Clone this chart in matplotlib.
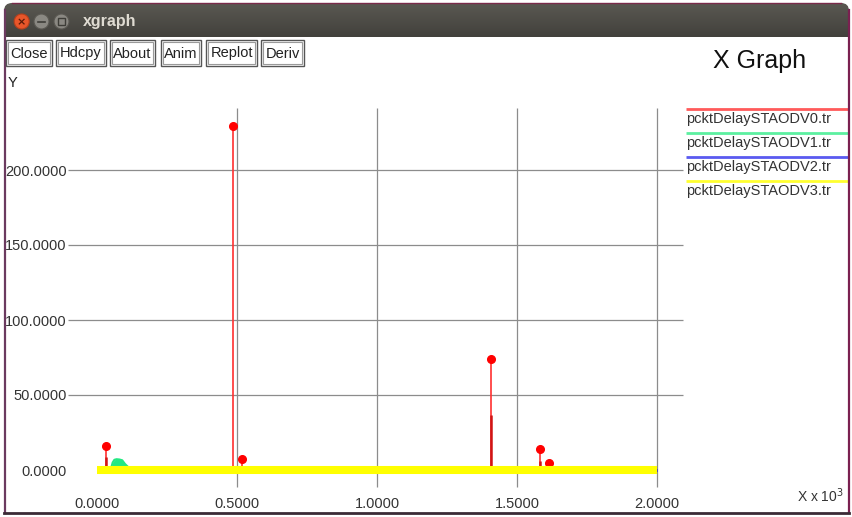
import numpy as np
import matplotlib.pyplot as plt
from matplotlib.patches import Rectangle, Circle, FancyBboxPatch
from matplotlib.colors import LinearSegmentedColormap

plt.rcParams['font.family'] = ['Liberation Sans', 'DejaVu Sans']

# 数据 (x 单位: 10^3)
# pcktDelaySTAODV0.tr 红色尖峰
red_x = [0.032, 0.487, 0.519, 1.406, 1.582, 1.615]
red_y = [16.2, 229.3, 7.3, 73.8, 14.0, 4.4]
red_inner = [9.0, 0.0, 3.0, 36.5, 6.0, 0.0]

# pcktDelaySTAODV1.tr 绿色小包
green_x = [0.050, 0.056, 0.062, 0.070, 0.080, 0.090, 0.100, 0.110, 0.118]
green_y = [1.0, 5.0, 6.8, 7.2, 7.0, 6.5, 4.0, 2.2, 1.2]

# pcktDelaySTAODV2.tr / pcktDelaySTAODV3.tr 贴近 0
blue_x = [0.0, 0.5, 1.0, 1.5, 2.0]
blue_y = [0.0, 0.0, 0.0, 0.0, 0.0]
yellow_x = [0.0, 0.5, 1.0, 1.5, 2.0]
yellow_y = [0.0, 0.0, 0.0, 0.0, 0.0]

x_ticks = [0.0, 0.5, 1.0, 1.5, 2.0]
y_ticks = [0, 50, 100, 150, 200]

legend_names = ['pcktDelaySTAODV0.tr', 'pcktDelaySTAODV1.tr',
                'pcktDelaySTAODV2.tr', 'pcktDelaySTAODV3.tr']
legend_colors = ['#ff5a5a', '#5cf0a0', '#5a5af0', '#ffff30']

buttons = ['Close', 'Hdcpy', 'About', 'Anim', 'Replot', 'Deriv']
button_x = [6, 56, 110, 161, 206, 261]
button_w = [46, 50, 45, 40, 51, 43]

W, H = 852, 517
fig = plt.figure(figsize=(W / 100, H / 100), dpi=100)
fig.patch.set_facecolor('white')

# 窗口外框 (像素坐标)
bg = fig.add_axes([0, 0, 1, 1])
bg.set_xlim(0, W)
bg.set_ylim(H, 0)
bg.axis('off')
bg.set_zorder(0)

# 标题栏 (圆角, 渐变)
bar = FancyBboxPatch((4, 3), 845, 48, boxstyle='round,pad=0,rounding_size=8',
                     facecolor='none', edgecolor='none')
bg.add_patch(bar)
grad = np.linspace(0, 1, 50).reshape(-1, 1)
im = bg.imshow(grad, extent=(4, 849, 37, 3),
               cmap=LinearSegmentedColormap.from_list('tb', ['#5a5852', '#42413c']),
               aspect='auto', zorder=1)
im.set_clip_path(bar)
bg.plot([12, 841], [3.2, 3.2], color='#7a2a4a', lw=1.0, zorder=3)

# 窗口边框
bg.plot([4.5, 4.5], [10, 513], color='#6b3a5f', lw=1.6, zorder=3)
bg.plot([848.5, 848.5], [10, 513], color='#7a2050', lw=1.6, zorder=3)
bg.plot([4, 849], [513, 513], color='#3b2a35', lw=2.0, zorder=3)

# 关闭/最小化/最大化
bg.add_patch(Circle((21.7, 21.5), 7.5, facecolor='#e8562a', edgecolor='#b8401c', lw=0.8, zorder=4))
bg.text(21.7, 21.8, '×', color='#5a1a08', fontsize=8, ha='center', va='center', zorder=5,
        family='DejaVu Sans', fontweight='bold')
bg.add_patch(Circle((41.5, 21.5), 7.5, facecolor='#8a8882', edgecolor='#5a5852', lw=0.8, zorder=4))
bg.plot([38, 45], [21.8, 21.8], color='#3e3d38', lw=1.2, zorder=5)
bg.add_patch(Circle((61.5, 21.5), 7.5, facecolor='#8a8882', edgecolor='#5a5852', lw=0.8, zorder=4))
bg.add_patch(Rectangle((58, 18), 7, 7, facecolor='none', edgecolor='#3e3d38', lw=1.0, zorder=5))
bg.text(83, 21.5, 'xgraph', color='#dfdbd2', fontsize=11.5, fontweight='bold',
        ha='left', va='center', zorder=5)

# 工具按钮
for name, bx, bw in zip(buttons, button_x, button_w):
    bg.add_patch(Rectangle((bx, 39.5), bw, 26, facecolor='white', edgecolor='#555555', lw=1.0, zorder=4))
    bg.add_patch(Rectangle((bx + 2, 41.5), bw - 4, 22, facecolor='white', edgecolor='#9a9a9a', lw=0.8, zorder=4))
    bg.text(bx + bw / 2, 53.5, name, fontsize=10.5, color='#222222', ha='center', va='center', zorder=5)

bg.text(8, 83, 'Y', fontsize=10.5, color='#222222', ha='left', va='center')
bg.text(760, 61, 'X Graph', fontsize=18, color='#111111', ha='center', va='center')
bg.text(797, 496, r'X x 10$^{3}$', fontsize=10, color='#333333', ha='left', va='center')

# 图例
for i, (name, c) in enumerate(zip(legend_names, legend_colors)):
    ly = 109 + 24 * i
    bg.plot([686, 848], [ly, ly], color=c, lw=2.0, solid_capstyle='butt')
    bg.text(686, ly + 10, name, fontsize=10.5, color='#333333', ha='left', va='center')

# 绘图区: 像素 x 68..690, y 100..490
ax = fig.add_axes([68 / W, (H - 490) / H, 622 / W, 390 / H])
ax.set_zorder(1)
ax.patch.set_alpha(0)
ax.set_xlim((68 - 97) / 280, (690 - 97) / 280)
ax.set_ylim((470 - 490) / 1.5, (470 - 100) / 1.5)
for s in ax.spines.values():
    s.set_visible(False)

grid_c = '#8c8c8c'
ax.hlines(y_ticks[1:], (68 - 97) / 280, (683 - 97) / 280, color=grid_c, lw=0.9, zorder=1)
ax.vlines(x_ticks[1:], (470 - 487) / 1.5, (470 - 108) / 1.5, color=grid_c, lw=0.9, zorder=1)

ax.set_xticks(x_ticks)
ax.set_xticklabels([f'{v:.4f}' for v in x_ticks])
ax.set_yticks(y_ticks)
ax.set_yticklabels([f'{v:.4f}' for v in y_ticks])
ax.tick_params(axis='both', length=0, labelsize=10.5, labelcolor='#333333')
ax.tick_params(axis='y', pad=1)
ax.tick_params(axis='x', pad=5)

# 数据系列
ax.vlines(red_x, 0, red_y, color='#ff3030', lw=1.2, zorder=3)
ax.vlines(red_x, 0, red_inner, color='#d01515', lw=1.8, zorder=3)
ax.plot(red_x, red_y, 'o', color='#ff0000', ms=5.5, zorder=4)

ax.fill_between(green_x, green_y, 0, color='#22e882', lw=0, zorder=3)
ax.plot(green_x, green_y, color='#22e882', lw=1.5, zorder=3)

ax.plot(blue_x, blue_y, color='#0000ff', lw=2, solid_capstyle='butt', zorder=4)
ax.plot(yellow_x, yellow_y, color='#ffff00', lw=5.8, solid_capstyle='butt', zorder=5)

fig.savefig('out.png', dpi=100)
